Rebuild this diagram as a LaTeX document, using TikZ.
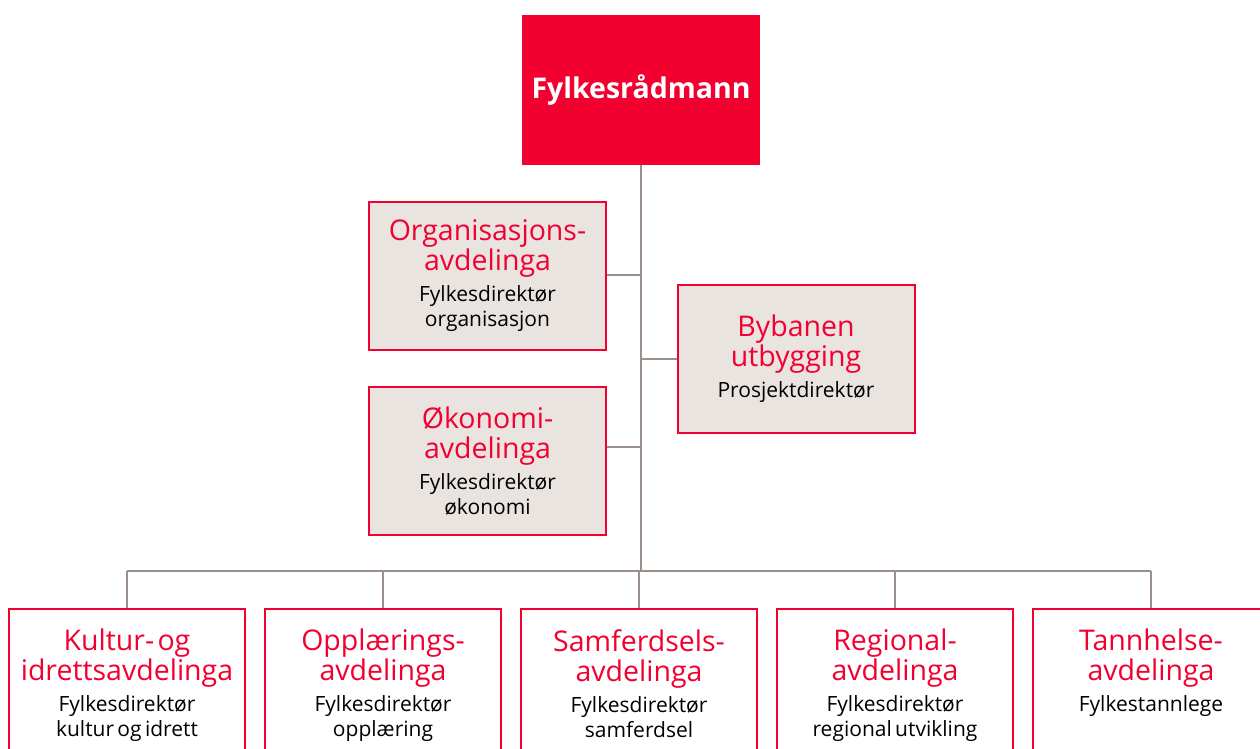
\documentclass[tikz,border=0pt]{standalone}
\usepackage{fontspec}
\setmainfont{Open Sans}
\definecolor{fred}{RGB}{242,0,48}
\definecolor{fgray}{RGB}{234,228,225}
\definecolor{lgray}{RGB}{155,145,138}
\newcommand{\rtxt}{\color{fred}\fontsize{28.5}{30}\selectfont}
\newcommand{\btxt}{\color{black}\fontsize{21}{25}\selectfont}
\begin{document}
\begin{tikzpicture}[x=1pt,y=-1pt,
  unit/.style={draw=fred, line width=2pt, fill=fgray, minimum width=237pt, minimum height=148pt, inner sep=0pt, text width=232pt, align=center},
  bunit/.style={draw=fred, line width=2pt, fill=white, minimum width=236pt, minimum height=160pt, inner sep=0pt, anchor=north},
  btext/.style={anchor=north, inner sep=0pt, text width=234pt, align=center},
  conn/.style={draw=lgray, line width=2pt}]
\useasboundingbox (0,0) rectangle (1260,749);
\clip (0,0) rectangle (1260,749);
% top
\node[fill=fred, minimum width=238pt, minimum height=150pt, inner sep=0pt, text=white, font=\fontsize{28.5}{32}\selectfont\bfseries] (top) at (641,90) {Fylkesrådmann};
% staff units
\node[unit] (org) at (487.5,276) {{\rtxt Organisasjons-\\avdelinga\par}\vspace{6pt}{\btxt Fylkesdirektør\\organisasjon\par}};
\node[unit] (oko) at (487.5,461) {{\rtxt Økonomi-\\avdelinga\par}\vspace{6pt}{\btxt Fylkesdirektør\\økonomi\par}};
\node[unit] (byb) at (796,359) {{\rtxt Bybanen\\utbygging\par}\vspace{6pt}{\btxt Prosjektdirektør\par}};
% bottom units
\node[bunit] (k) at (127,608) {};
\node[bunit] (o) at (383,608) {};
\node[bunit] (s) at (639,608) {};
\node[bunit] (r) at (895,608) {};
\node[bunit] (t) at (1151,608) {};
\node[btext] (kt) at ([yshift=-21pt]k.north) {{\rtxt Kultur- og\\idrettsavdelinga\par}\vspace{6pt}{\btxt Fylkesdirektør\\kultur og idrett\par}};
\node[btext] (ot) at ([yshift=-21pt]o.north) {{\rtxt Opplærings-\\avdelinga\par}\vspace{6pt}{\btxt Fylkesdirektør\\opplæring\par}};
\node[btext] (st) at ([yshift=-21pt]s.north) {{\rtxt Samferdsels-\\avdelinga\par}\vspace{6pt}{\btxt Fylkesdirektør\\samferdsel\par}};
\node[btext] (rt) at ([yshift=-21pt]r.north) {{\rtxt Regional-\\avdelinga\par}\vspace{6pt}{\btxt Fylkesdirektør\\regional utvikling\par}};
\node[btext] (tt) at ([yshift=-21pt]t.north) {{\rtxt Tannhelse-\\avdelinga\par}\vspace{6pt}{\btxt Fylkestannlege\par}};
% connectors
\coordinate (h) at (641,571);
\coordinate (bo) at (641,447);
\draw[conn] (top.south) -- (h);
\draw[conn] (k.north |- h) -- (t.north |- h);
\foreach \n in {k,o,s,r,t} \draw[conn] (\n.north) -- (\n.north |- h);
\draw[conn] (org.east |- 0,275) -- (top.south |- 0,275);
\draw[conn] (byb.west) -- (byb.west -| top.south);
\draw[conn] (oko.east |- bo) -- (bo);
\end{tikzpicture}
\end{document}
